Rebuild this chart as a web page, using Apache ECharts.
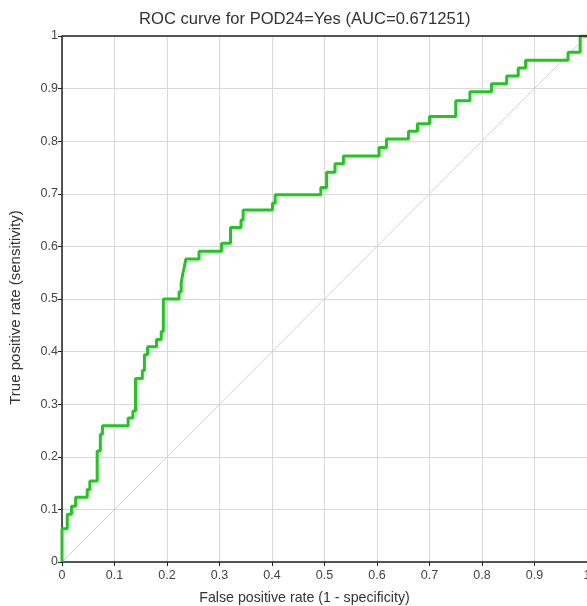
<!DOCTYPE html>
<html>
<head>
<meta charset="utf-8">
<script src="https://cdn.jsdelivr.net/npm/echarts@6/dist/echarts.min.js"></script>
<style>
html,body{margin:0;padding:0;background:#fff;overflow:hidden;}
#chart{width:587px;height:606px;}
</style>
</head>
<body>
<div id="chart"></div>
<script>
var titleText = 'ROC curve for POD24=Yes (AUC=0.671251)';
var xAxisName = 'False positive rate (1 - specificity)';
var yAxisName = 'True positive rate (sensitivity)';
var tickValues = [0, 0.1, 0.2, 0.3, 0.4, 0.5, 0.6, 0.7, 0.8, 0.9, 1];

// ROC step vertices (false positive rate, true positive rate)
var fpr = [0, 0, 0.010, 0.010, 0.018, 0.018, 0.026, 0.026, 0.048, 0.048, 0.053, 0.053, 0.067, 0.067, 0.073, 0.073, 0.077, 0.077,
  0.126, 0.126, 0.135, 0.135, 0.140, 0.140, 0.153, 0.153, 0.157, 0.157, 0.163, 0.163, 0.180, 0.180, 0.189, 0.189, 0.193, 0.193,
  0.223, 0.223, 0.227, 0.227, 0.230, 0.230, 0.233, 0.233, 0.236, 0.236, 0.261, 0.261, 0.304, 0.304, 0.321, 0.321, 0.341, 0.341,
  0.345, 0.345, 0.401, 0.401, 0.406, 0.406, 0.493, 0.493, 0.504, 0.504, 0.520, 0.520, 0.536, 0.536, 0.604, 0.604, 0.618, 0.618,
  0.660, 0.660, 0.677, 0.677, 0.700, 0.700, 0.750, 0.750, 0.777, 0.777, 0.818, 0.818, 0.847, 0.847, 0.869, 0.869, 0.883, 0.883,
  0.964, 0.964, 0.987, 0.987, 1];
var tpr = [0, 0.063, 0.063, 0.091, 0.091, 0.106, 0.106, 0.123, 0.123, 0.138, 0.138, 0.154, 0.154, 0.211, 0.211, 0.243, 0.243, 0.259,
  0.259, 0.274, 0.274, 0.287, 0.287, 0.349, 0.349, 0.364, 0.364, 0.394, 0.394, 0.409, 0.409, 0.423, 0.423, 0.438, 0.438, 0.500,
  0.500, 0.514, 0.514, 0.530, 0.530, 0.548, 0.548, 0.561, 0.561, 0.576, 0.576, 0.591, 0.591, 0.606, 0.606, 0.636, 0.636, 0.650,
  0.650, 0.669, 0.669, 0.682, 0.682, 0.698, 0.698, 0.712, 0.712, 0.741, 0.741, 0.757, 0.757, 0.772, 0.772, 0.788, 0.788, 0.804,
  0.804, 0.819, 0.819, 0.833, 0.833, 0.847, 0.847, 0.877, 0.877, 0.894, 0.894, 0.909, 0.909, 0.924, 0.924, 0.939, 0.939, 0.954,
  0.954, 0.969, 0.969, 1, 1];
var diagX = [0, 1];
var diagY = [0, 1];

var rocData = fpr.map(function (x, i) { return [x, tpr[i]]; });
var diagData = diagX.map(function (x, i) { return [x, diagY[i]]; });

var chart = echarts.init(document.getElementById('chart'), null, {renderer: 'canvas'});
var fontFam = '"Liberation Sans", Arial, sans-serif';
function fmt(v) { return String(Math.round(v * 10) / 10); }

chart.setOption({
  animation: false,
  backgroundColor: '#ffffff',
  title: {
    text: titleText,
    left: 134, top: 6,
    textStyle: {fontFamily: fontFam, fontSize: 16.6, fontWeight: 'normal', color: '#333'}
  },
  grid: {left: 62, top: 36, right: 0, bottom: 44, containLabel: false, outerBoundsMode: 'none'},
  xAxis: {
    type: 'value', min: 0, max: 1, interval: 0.1,
    name: xAxisName, nameLocation: 'middle', nameGap: 29,
    nameTextStyle: {fontFamily: fontFam, fontSize: 14.2, color: '#333', padding: [0, 40, 0, 0]},
    axisLine: {show: true, onZero: false, lineStyle: {color: '#222', width: 1.5}},
    axisTick: {show: true, length: 4, lineStyle: {color: '#222'}},
    axisLabel: {fontFamily: fontFam, fontSize: 12.5, color: '#444', margin: 7, formatter: fmt},
    splitLine: {show: true, lineStyle: {color: '#d8d8d8', width: 1}}
  },
  yAxis: {
    type: 'value', min: 0, max: 1, interval: 0.1,
    name: yAxisName, nameLocation: 'middle', nameGap: 39, nameRotate: 90,
    nameTextStyle: {fontFamily: fontFam, fontSize: 15, color: '#333', padding: [0, 17, 0, 0]},
    axisLine: {show: true, onZero: false, lineStyle: {color: '#222', width: 1.5}},
    axisTick: {show: true, length: 4, lineStyle: {color: '#222'}},
    axisLabel: {fontFamily: fontFam, fontSize: 12.5, color: '#444', margin: 4, formatter: fmt},
    splitLine: {show: true, lineStyle: {color: '#d8d8d8', width: 1}}
  },
  series: [
    {
      type: 'line', data: diagData, symbol: 'none', silent: true,
      lineStyle: {color: '#d2d2d2', width: 1}
    },
    {
      type: 'line', data: rocData, symbol: 'none',
      lineStyle: {color: '#1ec81e', width: 3},
      markLine: {
        silent: true, symbol: 'none', label: {show: false},
        lineStyle: {color: '#222', width: 1.5, type: 'solid'},
        data: [[{coord: [0, 1]}, {coord: [1, 1]}]]
      }
    }
  ]
});
</script>
</body>
</html>
